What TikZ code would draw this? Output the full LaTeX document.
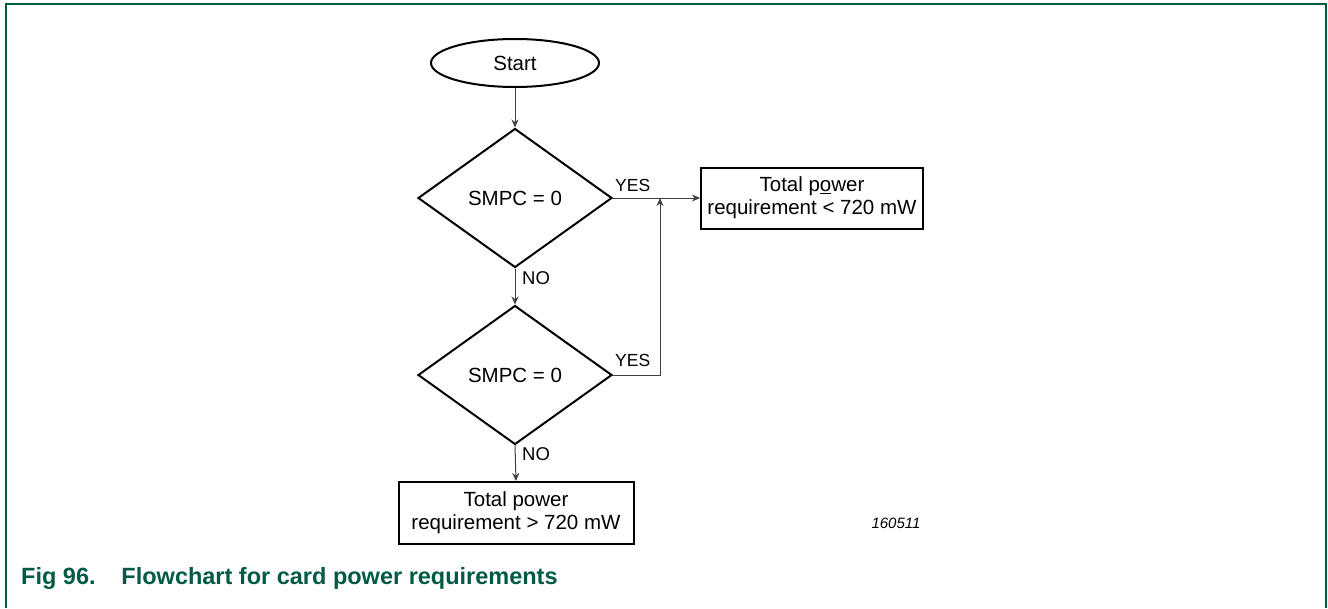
\documentclass[tikz,border=0pt]{standalone}
\usepackage{fontspec}
\setmainfont{Liberation Sans}
\usetikzlibrary{shapes.geometric,arrows.meta}
\definecolor{nxpgreen}{HTML}{005A46}
\begin{document}
\begin{tikzpicture}[x=1pt,y=-1pt,
  shapeline/.style={draw=black,line width=2pt},
  conn/.style={draw=black!75,line width=1pt,-{Stealth[length=8pt,width=7pt]}},
  lbl/.style={font=\fontsize{20.5}{23}\selectfont},
  small/.style={font=\fontsize{17.5}{20}\selectfont,inner sep=0pt,anchor=west},
  startshape/.style={shapeline,ellipse,minimum width=168pt,minimum height=48pt,inner sep=0pt,lbl},
  decision/.style={shapeline,diamond,minimum width=194pt,minimum height=139pt,inner sep=0pt,lbl},
  result/.style={shapeline,rectangle,minimum height=61pt,inner sep=0pt,align=center,lbl}
]
\useasboundingbox (0,0) rectangle (1328,608);
\draw[nxpgreen,line width=2pt] (6,608) -- (6,4) -- (1326,4) -- (1326,608);

\node[startshape] (start) at (515,63) {Start};
\node[decision] (d1) at (515,198) {SMPC = 0};
\node[decision] (d2) at (515,375) {SMPC = 0};
\node[result,minimum width=222pt] (r1) at (812,198) {Total p\underline{o}wer\\requirement < 720 mW};
\node[result,minimum width=235pt,minimum height=62pt] (r2) at (516,513) {Total power\\requirement > 720 mW};
\coordinate (join) at (660,198);

\draw[conn] (start.south) -- (d1.north);
\draw[conn] (d1.south) -- (d2.north);
\draw[conn] (d2.south) -- (r2.north);
\draw[conn] (d1.east) -- (r1.west);
\draw[conn] (d2.east) -| (join);

\node[small] (yes1) at (615,185) {YES};
\node[small] (yes2) at (615,360) {YES};
\node[small,font=\fontsize{18.5}{21}\selectfont] (no1) at (522,278) {NO};
\node[small,font=\fontsize{18.5}{21}\selectfont] (no2) at (522,454) {NO};
\node[font=\fontsize{15}{17}\selectfont\itshape,inner sep=0pt] (fid) at (896,523) {160511};
\node[font=\fontsize{23.5}{26}\selectfont\bfseries,text=nxpgreen,inner sep=0pt,anchor=base west] (cap) at (21,584) {Fig 96.\hspace{1.1em}Flowchart for card power requirements};
\end{tikzpicture}
\end{document}
